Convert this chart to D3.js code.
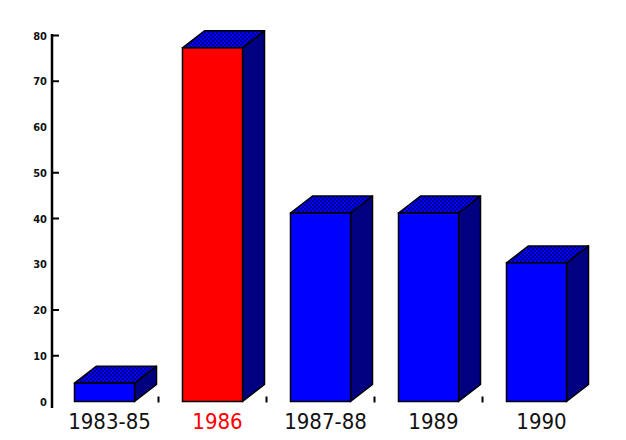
<!DOCTYPE html>
<html><head><meta charset="utf-8">
<script src="https://cdn.jsdelivr.net/npm/d3@7"></script>
<style>html,body{margin:0;padding:0;background:#fff;}svg{display:block;}</style>
</head><body>
<svg id="chart" width="626" height="440"></svg>
<script>
const categories = ["1983-85", "1986", "1987-88", "1989", "1990"];
const values = [4, 77.3, 41.2, 41.2, 30.3];
const highlight = ["1986"];
const yTickValues = [0, 10, 20, 30, 40, 50, 60, 70, 80];
const yTickMarks = [10, 20, 40, 50, 70, 80];

const svg = d3.select("#chart");
const depthX = 22, depthY = 17;
const x = d3.scaleBand().domain(categories).range([50.5, 590.5]).paddingInner(0.444).paddingOuter(0.222);
const y = d3.scaleLinear().domain([0, 80]).range([401.5, 35.5]);

const defs = svg.append("defs");
const pat = defs.append("pattern").attr("id", "dots").attr("patternUnits", "userSpaceOnUse")
  .attr("width", 4).attr("height", 4);
pat.append("rect").attr("width", 4).attr("height", 4).attr("fill", "#0000ff");
pat.append("circle").attr("cx", 1).attr("cy", 1).attr("r", 1.1).attr("fill", "#000080");
pat.append("circle").attr("cx", 3).attr("cy", 3).attr("r", 1.1).attr("fill", "#000080");

// y axis
const yAxis = svg.append("g").attr("transform", "translate(52,0)")
  .call(d3.axisLeft(y).tickValues(yTickValues).tickSize(0).tickPadding(5));
yAxis.select(".domain").remove();
yAxis.selectAll("text").attr("font-family", "DejaVu Sans Condensed, DejaVu Sans")
  .attr("font-size", 11).attr("font-weight", "bold").attr("fill", "#111");
svg.append("line").attr("x1", 52).attr("x2", 52).attr("y1", 34).attr("y2", 408)
  .attr("stroke", "#000").attr("stroke-width", 2.5);
svg.selectAll(".ytm").data(yTickMarks).join("line").attr("class", "ytm")
  .attr("x1", 52).attr("x2", 59).attr("y1", d => y(d)).attr("y2", d => y(d))
  .attr("stroke", "#000").attr("stroke-width", 2);

// x boundary ticks
svg.selectAll(".xtm").data(categories.slice(1)).join("line").attr("class", "xtm")
  .attr("x1", d => x(d) - x.step() * x.paddingInner() / 2)
  .attr("x2", d => x(d) - x.step() * x.paddingInner() / 2)
  .attr("y1", y(0) - 5).attr("y2", y(0) + 1)
  .attr("stroke", "#000").attr("stroke-width", 2);

// bars
const bars = svg.selectAll(".bar").data(categories.map((c, i) => ({c, v: values[i]}))).join("g").attr("class", "bar");
bars.append("path").attr("d", d => {
  const x0 = x(d.c) + x.bandwidth(), yt = y(d.v), yb = y(0);
  return `M${x0},${yt}L${x0 + depthX},${yt - depthY}L${x0 + depthX},${yb - depthY}L${x0},${yb}Z`;
}).attr("fill", "#000080").attr("stroke", "#000").attr("stroke-width", 1.5).attr("stroke-linejoin", "round");
bars.append("path").attr("d", d => {
  const x0 = x(d.c), x1 = x0 + x.bandwidth(), yt = y(d.v);
  return `M${x0},${yt}L${x0 + depthX},${yt - depthY}L${x1 + depthX},${yt - depthY}L${x1},${yt}Z`;
}).attr("fill", "url(#dots)").attr("stroke", "#000").attr("stroke-width", 1.5).attr("stroke-linejoin", "round");
bars.append("rect").attr("x", d => x(d.c)).attr("y", d => y(d.v))
  .attr("width", x.bandwidth()).attr("height", d => y(0) - y(d.v))
  .attr("fill", d => highlight.includes(d.c) ? "#ff0000" : "#0000ff")
  .attr("stroke", "#000").attr("stroke-width", 1.5);

// x labels
svg.selectAll(".xl").data(categories).join("text").attr("class", "xl")
  .attr("x", d => x(d) + x.bandwidth() / 2 + 5).attr("y", 429)
  .attr("text-anchor", "middle").attr("font-family", "DejaVu Sans Condensed, DejaVu Sans")
  .attr("font-size", 22).attr("fill", d => highlight.includes(d) ? "#ff0000" : "#111")
  .text(d => d);
</script>
</body></html>
